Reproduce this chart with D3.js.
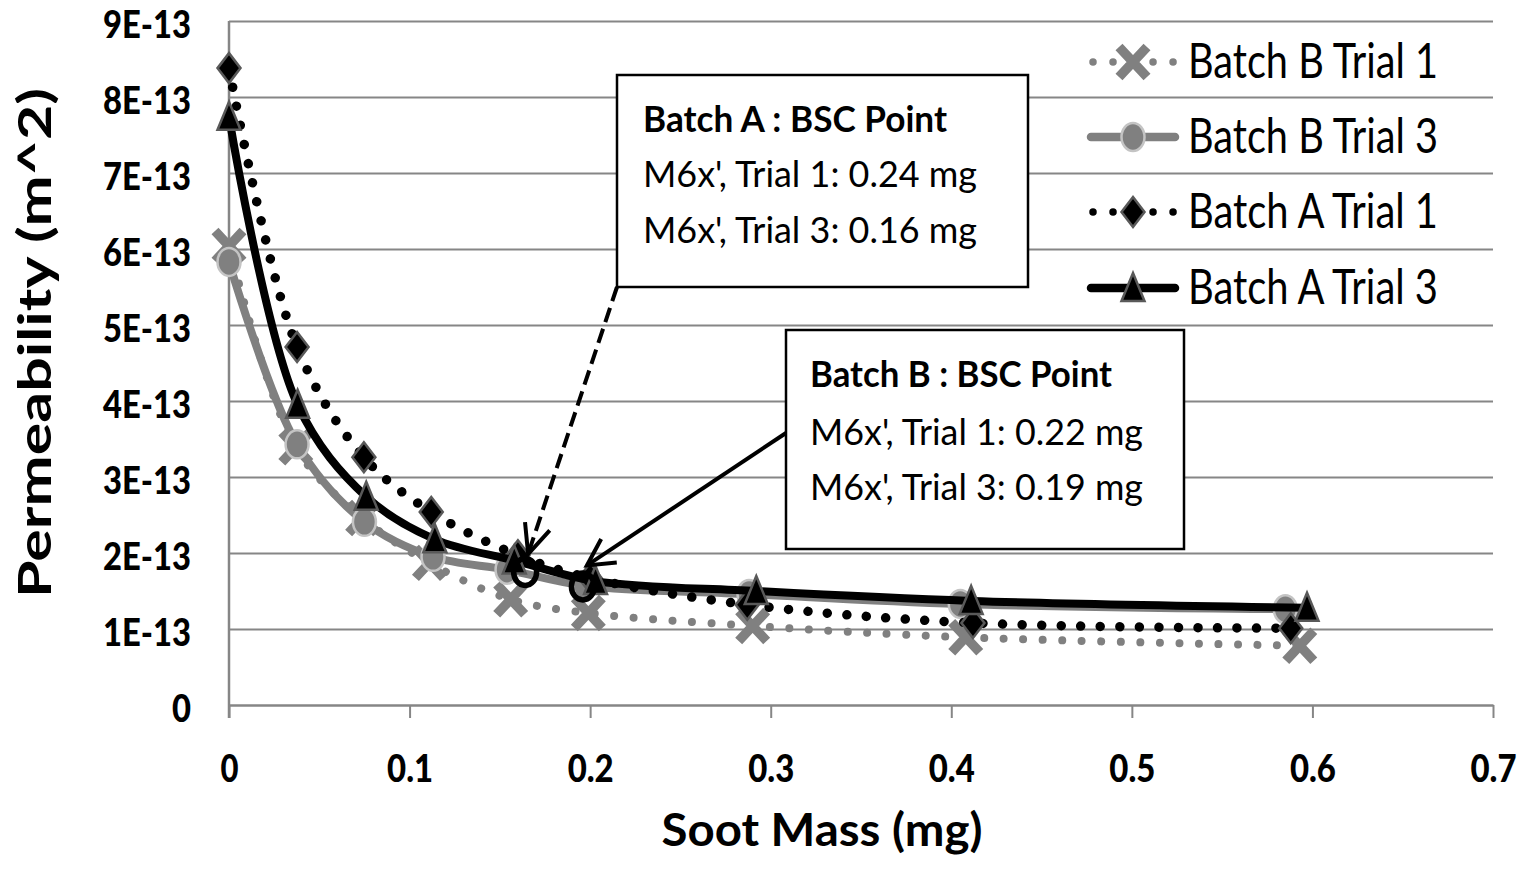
<!DOCTYPE html>
<html><head><meta charset="utf-8">
<script src="https://cdn.jsdelivr.net/npm/d3@7"></script>
<style>
body{margin:0;background:#fff;}
svg{display:block;background:#fff;}
text{font-family:Lato,"Open Sans","DejaVu Sans",sans-serif;fill:#000;}
</style>
</head><body>
<svg id="chart" width="1526" height="873"></svg>
<script>
// ---------------- DATA ----------------
const seriesNames = ["Batch B Trial 1", "Batch B Trial 3", "Batch A Trial 1", "Batch A Trial 3"];
const massB1 = [0, 0.037, 0.074, 0.111, 0.156, 0.199, 0.290, 0.408, 0.593];
const permB1 = [6.04e-13, 3.39e-13, 2.46e-13, 1.87e-13, 1.39e-13, 1.21e-13, 1.04e-13, 0.89e-13, 0.78e-13];
const massB3 = [0, 0.0377, 0.075, 0.113, 0.154, 0.197, 0.288, 0.405, 0.585];
const permB3 = [5.83e-13, 3.43e-13, 2.41e-13, 1.95e-13, 1.78e-13, 1.57e-13, 1.46e-13, 1.33e-13, 1.26e-13];
const massA1 = [0, 0.0377, 0.0747, 0.112, 0.160, 0.200, 0.287, 0.412, 0.588];
const permA1 = [8.38e-13, 4.71e-13, 3.26e-13, 2.54e-13, 1.97e-13, 1.67e-13, 1.32e-13, 1.08e-13, 1.01e-13];
const massA3 = [0, 0.038, 0.076, 0.114, 0.158, 0.203, 0.292, 0.411, 0.597];
const permA3 = [7.74e-13, 3.95e-13, 2.74e-13, 2.18e-13, 1.90e-13, 1.63e-13, 1.50e-13, 1.37e-13, 1.28e-13];

const xTicks = [0, 0.1, 0.2, 0.3, 0.4, 0.5, 0.6, 0.7];
const xTickLabels = ["0", "0.1", "0.2", "0.3", "0.4", "0.5", "0.6", "0.7"];
const yTicks = [0, 1e-13, 2e-13, 3e-13, 4e-13, 5e-13, 6e-13, 7e-13, 8e-13, 9e-13];
const yTickLabels = ["0", "1E-13", "2E-13", "3E-13", "4E-13", "5E-13", "6E-13", "7E-13", "8E-13", "9E-13"];

const xTitle = "Soot Mass (mg)";
const yTitle = "Permeability (m^2)";

// BSC points (Batch A, Batch B)
const bscMass = [0.164, 0.196];
const bscPerm = [1.75e-13, 1.56e-13];
const noteATitle = "Batch A : BSC Point";
const noteALines = ["M6x', Trial 1: 0.24 mg", "M6x', Trial 3: 0.16 mg"];
const noteBTitle = "Batch B : BSC Point";
const noteBLines = ["M6x', Trial 1: 0.22 mg", "M6x', Trial 3: 0.19 mg"];

// ---------------- LAYOUT / STYLE ----------------
const svg = d3.select("#chart");
const x = d3.scaleLinear().domain([0, 0.7]).range([229, 1493]);
const y = d3.scaleLinear().domain([0, 9e-13]).range([705, 21]);
const gridColor = "#868686";

function fit(sel, len) {
  sel.attr("textLength", len).attr("lengthAdjust", "spacingAndGlyphs");
}

// gridlines
const grid = svg.append("g").attr("transform", `translate(${x(0)},0)`)
  .call(d3.axisLeft(y).tickValues(yTicks.slice(1)).tickSize(-(x(0.7) - x(0))).tickFormat(""));
grid.select(".domain").remove();
grid.selectAll("line").attr("stroke", gridColor).attr("stroke-width", 2);

// y axis labels
const yAx = svg.append("g").attr("transform", `translate(${x(0)},0)`)
  .call(d3.axisLeft(y).tickValues(yTicks).tickSize(0).tickFormat((d, i) => yTickLabels[i]));
yAx.select(".domain").remove();
yAx.selectAll("text")
  .attr("x", -38).attr("dy", null).attr("y", 16.5)
  .style("font-size", "38px").style("font-weight", "900").style("font-family", "Lato, sans-serif")
  .attr("fill", "#000")
  .each(function(d, i) { fit(d3.select(this), yTickLabels[i] === "0" ? 19 : 88); });

// y axis line
svg.append("line").attr("x1", x(0)).attr("x2", x(0)).attr("y1", y(9e-13)).attr("y2", y(0) + 13)
  .attr("stroke", gridColor).attr("stroke-width", 2.5);

// x axis
const xAx = svg.append("g").attr("transform", `translate(0,${y(0)})`)
  .call(d3.axisBottom(x).tickValues(xTicks).tickSize(13).tickSizeOuter(0).tickFormat((d, i) => xTickLabels[i]));
xAx.select(".domain").attr("stroke", gridColor).attr("stroke-width", 2.5);
xAx.selectAll(".tick line").attr("stroke", gridColor).attr("stroke-width", 2);
xAx.selectAll("text")
  .attr("y", 77).attr("dy", null)
  .style("font-size", "38px").style("font-weight", "900").style("font-family", "Lato, sans-serif")
  .attr("fill", "#000")
  .each(function(d, i) { fit(d3.select(this), xTickLabels[i] === "0" ? 18 : 46); });

// axis titles
svg.append("text").attr("x", 822).attr("y", 846).attr("text-anchor", "middle")
  .style("font-size", "46px").style("font-weight", "700").text(xTitle).call(fit, 321);
svg.append("text").attr("transform", "translate(51,343) rotate(-90)").attr("text-anchor", "middle")
  .style("font-size", "46px").style("font-weight", "700").text(yTitle).call(fit, 510);

// ---------------- SERIES ----------------
const lineGen = d3.line().x(d => x(d[0])).y(d => y(d[1])).curve(d3.curveCatmullRom.alpha(0.5));

const markerPaths = {
  x: "M-14,-15L14,15M14,-15L-14,15",
  diamond: "M0,-15L11.5,0L0,15L-11.5,0Z",
  triangle: "M0,-15L11.5,13L-11.5,13Z"
};

const seriesStyle = [
  {color: "#808080", width: 8, dash: "0.01 19.5", marker: "x"},
  {color: "#808080", width: 8, dash: null, marker: "circle"},
  {color: "#000000", width: 9.5, dash: "0.01 19.5", marker: "diamond"},
  {color: "#000000", width: 8, dash: null, marker: "triangle"}
];
const seriesData = [
  d3.zip(massB1, permB1),
  d3.zip(massB3, permB3),
  d3.zip(massA1, permA1),
  d3.zip(massA3, permA3)
];

function drawMarker(g, type) {
  if (type === "circle") {
    g.append("ellipse").attr("rx", 11.5).attr("ry", 14)
      .attr("fill", "#808080").attr("stroke", "#c4c4c4").attr("stroke-width", 2.5);
  } else if (type === "x") {
    g.append("path").attr("d", markerPaths.x).attr("fill", "none")
      .attr("stroke", "#808080").attr("stroke-width", 9.5);
  } else {
    g.append("path").attr("d", markerPaths[type])
      .attr("fill", "#000").attr("stroke", "#595959").attr("stroke-width", 2.5);
  }
}

seriesData.forEach((data, si) => {
  const st = seriesStyle[si];
  const g = svg.append("g");
  g.append("path").datum(data).attr("d", lineGen)
    .attr("fill", "none").attr("stroke", st.color).attr("stroke-width", st.width)
    .attr("stroke-linecap", st.dash ? "round" : "butt")
    .attr("stroke-dasharray", st.dash);
  data.forEach(d => {
    const m = g.append("g").attr("transform", `translate(${x(d[0])},${y(d[1])})`);
    drawMarker(m, st.marker);
  });
});

// ---------------- LEGEND ----------------
const legendRows = [62, 137, 212, 288];
seriesNames.forEach((name, i) => {
  const st = seriesStyle[i];
  const g = svg.append("g").attr("transform", `translate(0,${legendRows[i]})`);
  g.append("line").attr("x1", st.dash ? 1093 : 1091).attr("x2", 1175).attr("y1", 0).attr("y2", 0)
    .attr("stroke", st.color).attr("stroke-width", st.dash ? 7.5 : 8.5)
    .attr("stroke-linecap", "round").attr("stroke-dasharray", st.dash ? "0.01 20" : null);
  const m = g.append("g").attr("transform", "translate(1133,0)");
  drawMarker(m, st.marker);
  g.append("text").attr("x", 1188).attr("y", 16).style("font-size", "49px").text(name).call(fit, 250);
});

// ---------------- ANNOTATIONS ----------------
const notes = [
  {title: noteATitle, lines: noteALines, box: [617, 75, 411, 212], tx: 643, base: [132, 187, 243], w: [304, 334, 334]},
  {title: noteBTitle, lines: noteBLines, box: [786, 330, 398, 219], tx: 810, base: [387, 445, 500], w: [302, 333, 333]}
];
notes.forEach(n => {
  svg.append("rect").attr("x", n.box[0]).attr("y", n.box[1]).attr("width", n.box[2]).attr("height", n.box[3])
    .attr("fill", "#fff").attr("stroke", "#000").attr("stroke-width", 2.5);
  svg.append("text").attr("x", n.tx).attr("y", n.base[0]).style("font-size", "36px").style("font-weight", "700")
    .text(n.title).call(fit, n.w[0]);
  n.lines.forEach((t, i) => {
    svg.append("text").attr("x", n.tx).attr("y", n.base[i + 1]).style("font-size", "36px")
      .text(t).call(fit, n.w[i + 1]);
  });
});

// arrows
function arrow(x0, y0, x1, y1, dash, spread, len) {
  svg.append("line").attr("x1", x0).attr("y1", y0).attr("x2", x1).attr("y2", y1)
    .attr("stroke", "#000").attr("stroke-width", 4).attr("stroke-dasharray", dash);
  const ang = Math.atan2(y0 - y1, x0 - x1);
  const a1 = ang + spread * Math.PI / 180, a2 = ang - spread * Math.PI / 180;
  svg.append("path")
    .attr("d", `M${x1 + len * Math.cos(a1)},${y1 + len * Math.sin(a1)}L${x1},${y1}L${x1 + len * Math.cos(a2)},${y1 + len * Math.sin(a2)}`)
    .attr("fill", "none").attr("stroke", "#000").attr("stroke-width", 4);
}
const bA = [x(bscMass[0]), y(bscPerm[0])];
const bB = [x(bscMass[1]), y(bscPerm[1])];
arrow(617, 287, bA[0] + 3, bA[1] - 18, "15 7", 24, 32);
arrow(786, 433, bB[0] + 4, bB[1] - 21, null, 28, 30);

// BSC circles
[bA, bB].forEach(p => {
  svg.append("ellipse").attr("cx", p[0]).attr("cy", p[1]).attr("rx", 11.5).attr("ry", 13.5)
    .attr("fill", "none").attr("stroke", "#000").attr("stroke-width", 5.5);
});
</script>
</body></html>
